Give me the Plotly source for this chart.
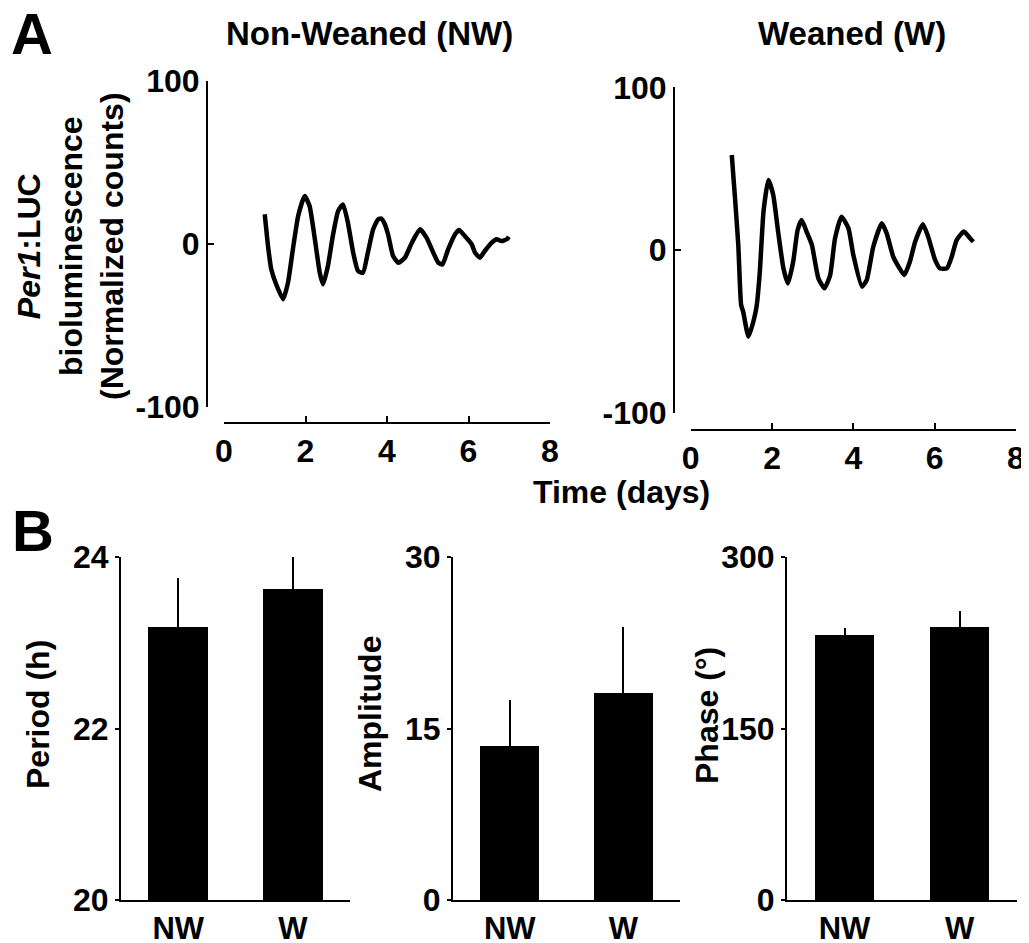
import plotly.graph_objects as go

W, H = 1029, 943

# ---------------- data ----------------
nw_time = [1.00, 1.08, 1.16, 1.28, 1.45, 1.57, 1.69, 1.82, 1.98, 2.10, 2.23, 2.35, 2.43, 2.55,
           2.67, 2.80, 2.92, 3.04, 3.17, 3.29, 3.41, 3.53, 3.66, 3.78, 3.86, 3.95, 4.03, 4.15,
           4.28, 4.44, 4.61, 4.81, 4.97, 5.10, 5.26, 5.36, 5.50, 5.67, 5.77, 5.91, 6.08, 6.16,
           6.28, 6.40, 6.57, 6.69, 6.81, 6.94, 6.99]
nw_value = [18.2, -1.2, -15.5, -24.7, -33.9, -23.7, -3.3, 17.2, 29.4, 23.3, 2.9, -17.6, -24.7, -13.5,
            4.9, 20.2, 24.3, 13.1, -5.3, -16.6, -17.6, -5.3, 9.0, 15.1, 15.6, 12.0, 5.5, -7.4,
            -11.5, -8.4, 0.8, 9.0, 3.9, -3.3, -11.5, -12.5, -3.3, 6.0, 8.6, 4.9, -0.2, -5.3,
            -8.4, -4.3, 0.8, 2.9, 1.8, 2.9, 4.5]

w_time = [1.01, 1.09, 1.17, 1.24, 1.29, 1.42, 1.54, 1.62, 1.70, 1.79, 1.91, 2.03, 2.15, 2.28,
          2.39, 2.52, 2.63, 2.73, 2.85, 2.98, 3.14, 3.29, 3.43, 3.55, 3.71, 3.88, 4.00, 4.21,
          4.33, 4.49, 4.70, 4.82, 4.98, 5.11, 5.25, 5.39, 5.52, 5.71, 5.84, 6.01, 6.13, 6.30,
          6.42, 6.54, 6.72, 6.87, 6.95]
w_value = [58.4, 31.8, 3.1, -33.8, -37.9, -53.3, -44.1, -34.8, -13.3, 23.5, 43.0, 33.8, 11.2, -11.2,
           -20.5, -7.2, 12.3, 18.4, 11.2, 3.1, -17.4, -23.5, -15.4, 7.2, 20.5, 13.3, -3.1, -22.5,
           -18.4, 2.0, 16.4, 10.2, -4.1, -10.2, -15.4, -7.2, 5.1, 15.8, 8.2, -6.1, -11.3, -11.3,
           -4.1, 6.1, 11.3, 7.2, 5.1]

time_ticks = [0, 2, 4, 6, 8]
count_ticks = [-100, 0, 100]
count_labels = ["-100", "0", "100"]

groups = ["NW", "W"]
period_mean = [23.18, 23.63]
period_err = [0.57, 0.38]
period_ticks = [20, 22, 24]
amplitude_mean = [13.5, 18.1]
amplitude_err = [4.0, 5.8]
amplitude_ticks = [0, 15, 30]
phase_mean = [232, 239]
phase_err = [6, 14]
phase_ticks = [0, 150, 300]

# ---------------- helpers ----------------
OFF = 8  # page offset of the plot div

def px(x):
    return (x - OFF) / W

def py(y):
    return 1 - (y - OFF) / H

FONT = "Arial, Liberation Sans, sans-serif"
FS = 32
tickfont = dict(family=FONT, size=FS, color="black", weight="bold")
bottick = dict(family=FONT, size=31, color="black", weight="bold")

fig = go.Figure()

# ---------------- panel A traces ----------------
fig.add_trace(go.Scatter(x=nw_time, y=nw_value, mode="lines",
                         line=dict(color="black", width=4.5, shape="spline", smoothing=0.5),
                         xaxis="x", yaxis="y", showlegend=False))
fig.add_trace(go.Scatter(x=w_time, y=w_value, mode="lines",
                         line=dict(color="black", width=4.5, shape="spline", smoothing=0.5),
                         xaxis="x2", yaxis="y2", showlegend=False))

# ---------------- panel B bars ----------------
bar_specs = [("x3", "y3", period_mean, period_err),
             ("x4", "y4", amplitude_mean, amplitude_err),
             ("x5", "y5", phase_mean, phase_err)]
for xa, ya, means, errs in bar_specs:
    fig.add_trace(go.Bar(x=groups, y=means, width=0.52, marker=dict(color="black", line=dict(width=0)),
                         error_y=dict(type="data", array=errs, arrayminus=[0] * len(errs), symmetric=False,
                                      color="black", thickness=2, width=0),
                         xaxis=xa, yaxis=ya, showlegend=False))

def top_x(domain, pos):
    return dict(domain=domain, range=[0, 8], tickvals=time_ticks, anchor="free", position=pos,
                showline=True, linecolor="black", linewidth=2, ticks="inside", ticklen=6,
                tickwidth=2, tickcolor="black", showgrid=False, zeroline=False, tickfont=tickfont,
                automargin=False)

def top_y(domain, pos):
    return dict(domain=domain, range=[-100, 100], tickvals=count_ticks, ticktext=count_labels,
                anchor="free", position=pos,
                showline=True, linecolor="black", linewidth=2, ticks="inside", ticklen=6,
                tickwidth=2, tickcolor="black", showgrid=False, zeroline=False, tickfont=tickfont,
                automargin=False)

def bot_x(domain, ya):
    return dict(domain=domain, anchor=ya, range=[-0.5, 1.5], showline=True, linecolor="black", linewidth=2,
                ticks="", showgrid=False, zeroline=False, tickfont=bottick, automargin=False)

def bot_y(domain, xa, rng, tv):
    return dict(domain=domain, anchor=xa, range=rng, tickvals=tv, showline=True, linecolor="black",
                linewidth=2, ticks="outside", ticklen=4, tickwidth=2, tickcolor="black",
                showgrid=False, zeroline=False, tickfont=tickfont, automargin=False)

ydom_b = [py(900), py(557)]

fig.update_layout(
    width=W, height=H, autosize=False,
    margin=dict(l=0, r=0, t=0, b=0, pad=0, autoexpand=False),
    paper_bgcolor="white", plot_bgcolor="white",
    bargap=0,
    xaxis=top_x([px(224), px(550)], py(423)),
    yaxis=top_y([py(407), py(81)], px(207)),
    xaxis2=top_x([px(690.7), px(1016)], py(430)),
    yaxis2=top_y([py(412.7), py(87.3)], px(674)),
    xaxis3=bot_x([px(121), px(350)], "y3"),
    yaxis3=bot_y(ydom_b, "x3", [20, 24], period_ticks),
    xaxis4=bot_x([px(453), px(680)], "y4"),
    yaxis4=bot_y(ydom_b, "x4", [0, 30], amplitude_ticks),
    xaxis5=bot_x([px(787), px(1017)], "y5"),
    yaxis5=bot_y(ydom_b, "x5", [0, 300], phase_ticks),
)

def ann(text, x, y, size=FS, angle=0):
    fig.add_annotation(text=text, x=px(x), y=py(y), xref="paper", yref="paper",
                       xanchor="center", yanchor="middle", showarrow=False, textangle=angle,
                       font=dict(family=FONT, size=size, color="black", weight="bold"))

ann("A", 32, 33, size=58)
ann("B", 33, 530, size=58)
ann("Non-Weaned (NW)", 369, 33, size=33)
ann("Weaned (W)", 852, 33, size=33)
ann("<i>Per1</i>:LUC<br>bioluminescence<br>(Normalized counts)", 70, 246, angle=-90)
ann("Time (days)", 621, 492, size=32)
ann("Period (h)", 38, 715, angle=-90)
ann("Amplitude", 370, 714, angle=-90)
ann("Phase (°)", 707, 716, angle=-90)

fig.write_html("out.html")
